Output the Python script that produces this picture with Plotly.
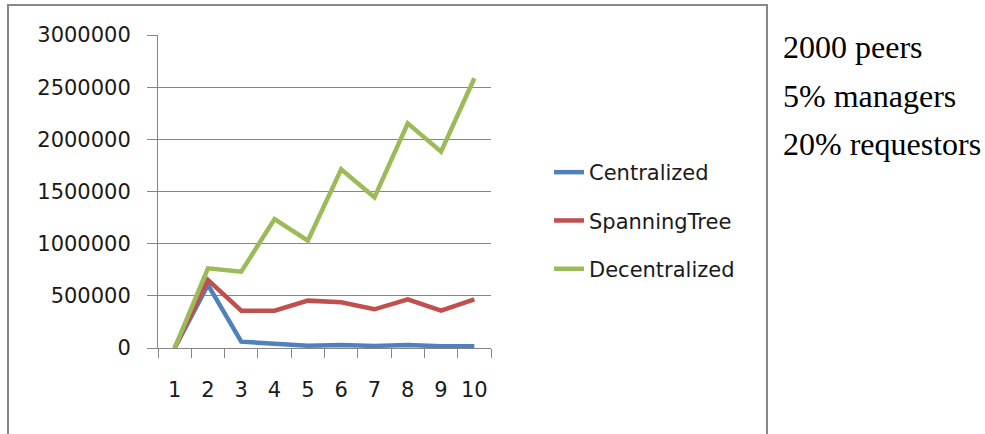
import plotly.graph_objects as go

# Message counts per run, for three management schemes
runs = ["1", "2", "3", "4", "5", "6", "7", "8", "9", "10"]
centralized = [0, 604000, 61000, 38000, 22000, 29000, 20000, 29000, 17000, 17000]
spanning_tree = [0, 652000, 358000, 358000, 454000, 438000, 371000, 467000, 358000, 467000]
decentralized = [0, 764000, 731000, 1236000, 1029000, 1713000, 1444000, 2153000, 1882000, 2585000]
y_ticks = [0, 500000, 1000000, 1500000, 2000000, 2500000, 3000000]
notes = ["2000 peers", "5% managers", "20% requestors"]

W, H = 985, 434
L, R, T, B = 158, 491, 35, 348  # plot area in pixels
pw, ph = R - L, B - T


def px(x):
    return (x - L) / pw


def py(y):
    return (B - y) / ph


grid = "#868686"
axis_font = dict(family="DejaVu Sans", size=21, color="#1a1a1a")

fig = go.Figure()
series = [
    ("Centralized", centralized, "#4F81BD"),
    ("SpanningTree", spanning_tree, "#C0504D"),
    ("Decentralized", decentralized, "#9BBB59"),
]
for name, vals, col in series:
    fig.add_trace(go.Scatter(
        x=runs, y=vals, name=name, mode="lines",
        line=dict(color=col, width=4.5),
        legendgroup=name,
    ))

fig.update_layout(
    width=W, height=H,
    margin=dict(l=L, r=W - R, t=T, b=H - B, pad=0),
    paper_bgcolor="white", plot_bgcolor="white",
    font=axis_font,
    showlegend=True,
    legend=dict(
        x=px(549), y=py(152), xanchor="left", yanchor="top",
        font=axis_font,
        tracegroupgap=18, bgcolor="rgba(0,0,0,0)",
    ),
    xaxis=dict(
        type="category", range=[-0.5, 9.5],
        showgrid=False, showline=True, linecolor=grid, linewidth=1,
        ticks="outside", tickson="boundaries", ticklen=9, tickcolor=grid,
        tickangle=0, ticklabelstandoff=23, tickfont=axis_font, zeroline=False,
    ),
    yaxis=dict(
        range=[0, 3000000], tickvals=y_ticks, tickformat="d",
        showgrid=True, gridcolor=grid, gridwidth=1,
        showline=True, linecolor=grid, linewidth=1,
        ticks="outside", ticklen=10, tickcolor=grid,
        ticklabelstandoff=12, tickfont=axis_font, zeroline=False,
    ),
)

# Chart frame
fig.add_shape(type="rect", xref="paper", yref="paper",
              x0=px(8), x1=px(767), y0=py(445), y1=py(5),
              line=dict(color="#888888", width=2), fillcolor="rgba(0,0,0,0)",
              layer="below")

# Simulation parameters beside the chart
for text, yc in zip(notes, [47, 96, 144]):
    fig.add_annotation(text=text, xref="paper", yref="paper",
                       x=px(781), y=py(yc), xanchor="left", yanchor="middle",
                       showarrow=False,
                       font=dict(family="Liberation Serif", size=32, color="black"))

fig.write_html("out.html")
